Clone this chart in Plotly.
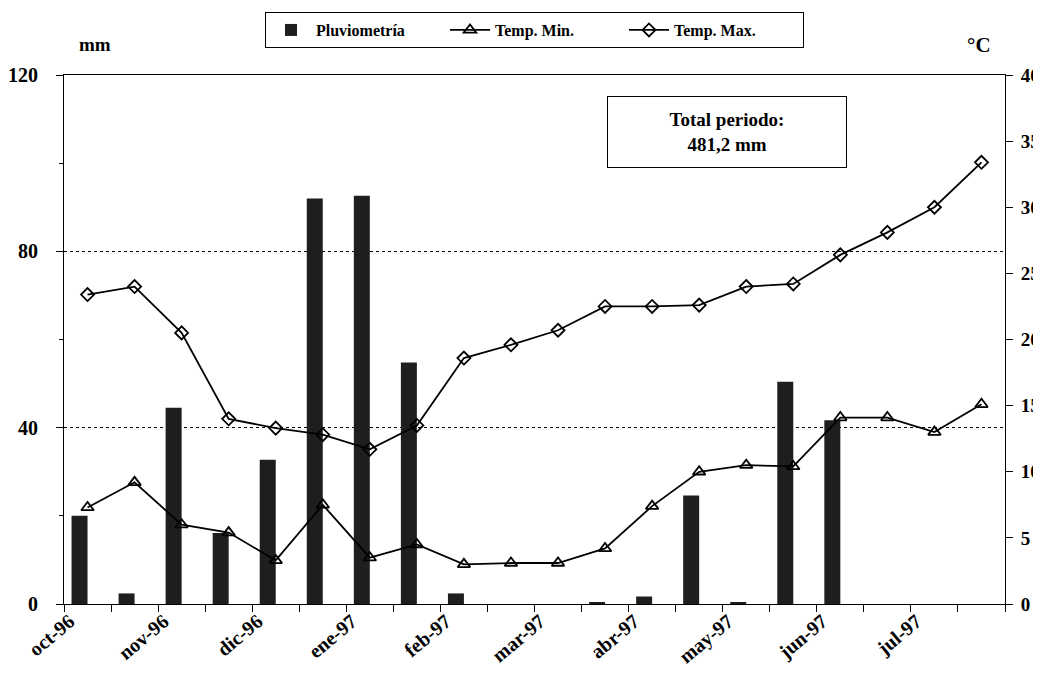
import plotly.graph_objects as go

months = ["oct-96", "nov-96", "dic-96", "ene-97", "feb-97",
          "mar-97", "abr-97", "may-97", "jun-97", "jul-97"]
halves = ["I", "II"]
periods = [f"{m} {h}" for m in months for h in halves]

rain = [20.0, 2.4, 44.5, 16.1, 32.7, 92.0, 92.6, 54.8, 2.4, 0.0,
        0.0, 0.3, 1.7, 24.6, 0.3, 50.4, 41.7, 0.0, 0.0, 0.0]
tmin = [7.3, 9.2, 6.0, 5.4, 3.3, 7.5, 3.5, 4.5, 3.0, 3.1,
        3.1, 4.2, 7.4, 10.0, 10.5, 10.4, 14.1, 14.1, 13.0, 15.1]
tmax = [23.4, 24.0, 20.5, 14.0, 13.3, 12.8, 11.7, 13.5, 18.6, 19.6,
        20.7, 22.5, 22.5, 22.6, 24.0, 24.2, 26.4, 28.1, 30.0, 33.4]

left_ticks = [0, 40, 80, 120]
right_ticks = [0, 5, 10, 15, 20, 25, 30, 35, 40]

xi = list(range(len(periods)))
serif = "Liberation Serif"

fig = go.Figure()
fig.add_trace(go.Bar(
    x=xi, y=rain, name="Pluviometría", customdata=periods,
    marker=dict(color="#1e1e1e", line=dict(width=0)),
    offset=-0.34, width=0.34, yaxis="y",
))
fig.add_trace(go.Scatter(
    x=xi, y=tmin, name="Temp. Min.", mode="lines+markers", yaxis="y2",
    line=dict(color="black", width=1.8),
    marker=dict(symbol="triangle-up-open", size=11, color="black",
                line=dict(width=1.8, color="black")),
))
fig.add_trace(go.Scatter(
    x=xi, y=tmax, name="Temp. Max.", mode="lines+markers", yaxis="y2",
    line=dict(color="black", width=1.8),
    marker=dict(symbol="diamond-open", size=10, color="black",
                line=dict(width=1.8, color="black")),
))

fig.update_layout(
    width=1033, height=683,
    margin=dict(l=56, r=36, t=67, b=87, autoexpand=False),
    paper_bgcolor="white", plot_bgcolor="white",
    font=dict(family=serif, size=17, color="black", weight="bold"),
    showlegend=True,
    legend=dict(
        orientation="h", x=0.5, xanchor="center", y=1.119, yanchor="top",
        bordercolor="black", borderwidth=1, bgcolor="white",
        font=dict(family=serif, size=16, color="black", weight="bold"),
        itemwidth=40, entrywidth=124, entrywidthmode="pixels",
        tracegroupgap=0,
    ),
    xaxis=dict(
        range=[-0.5, len(periods) - 0.5], automargin=False,
        tickmode="array",
        tickvals=xi[::2], ticktext=months,
        tickangle=-40, ticks="", ticklen=0,
        ticklabelshift=-18, ticklabelstandoff=-3,
        tickfont=dict(family=serif, size=20, color="black", weight="bold"),
        showline=True, linecolor="black", linewidth=1, mirror=True,
        showgrid=False, zeroline=False,
        minor=dict(tickmode="array",
                   tickvals=[i - 0.5 for i in xi] + [len(periods) - 0.5],
                   ticks="outside", ticklen=7, tickcolor="black", showgrid=False),
    ),
    yaxis=dict(
        range=[0, 120], tickmode="array", tickvals=left_ticks, automargin=False,
        ticks="outside", ticklen=7, tickcolor="black",
        tickfont=dict(family=serif, size=20, color="black", weight="bold"),
        ticklabelstandoff=14,
        showline=True, linecolor="black", linewidth=1,
        showgrid=True, gridcolor="black", griddash="dot", gridwidth=1,
        zeroline=False,
        minor=dict(tickmode="array", tickvals=[20, 60, 100],
                   ticks="outside", ticklen=4, tickcolor="black", showgrid=False),
    ),
    yaxis2=dict(
        range=[0, 40], overlaying="y", side="right", automargin=False,
        tickmode="array", tickvals=right_ticks,
        ticks="outside", ticklen=7, tickcolor="black",
        tickfont=dict(family=serif, size=19, color="black", weight="bold"),
        ticklabelstandoff=4,
        showline=True, linecolor="black", linewidth=1,
        showgrid=False, zeroline=False,
    ),
    annotations=[
        dict(text="mm", xref="paper", yref="paper", x=0.033, y=1.057,
             xanchor="center", yanchor="middle",
             showarrow=False, font=dict(family=serif, size=19, weight="bold")),
        dict(text="°C", xref="paper", yref="paper", x=0.972, y=1.057,
             xanchor="center", yanchor="middle",
             showarrow=False, font=dict(family=serif, size=21, weight="bold")),
        dict(text="Total periodo:<br>481,2 mm", xref="paper", yref="paper",
             x=0.705, y=0.893, xanchor="center", yanchor="middle",
             showarrow=False, align="center",
             width=236, height=68, bordercolor="black", borderwidth=1,
             bgcolor="white",
             font=dict(family=serif, size=19, weight="bold")),
    ],
)

fig.write_html("out.html")
